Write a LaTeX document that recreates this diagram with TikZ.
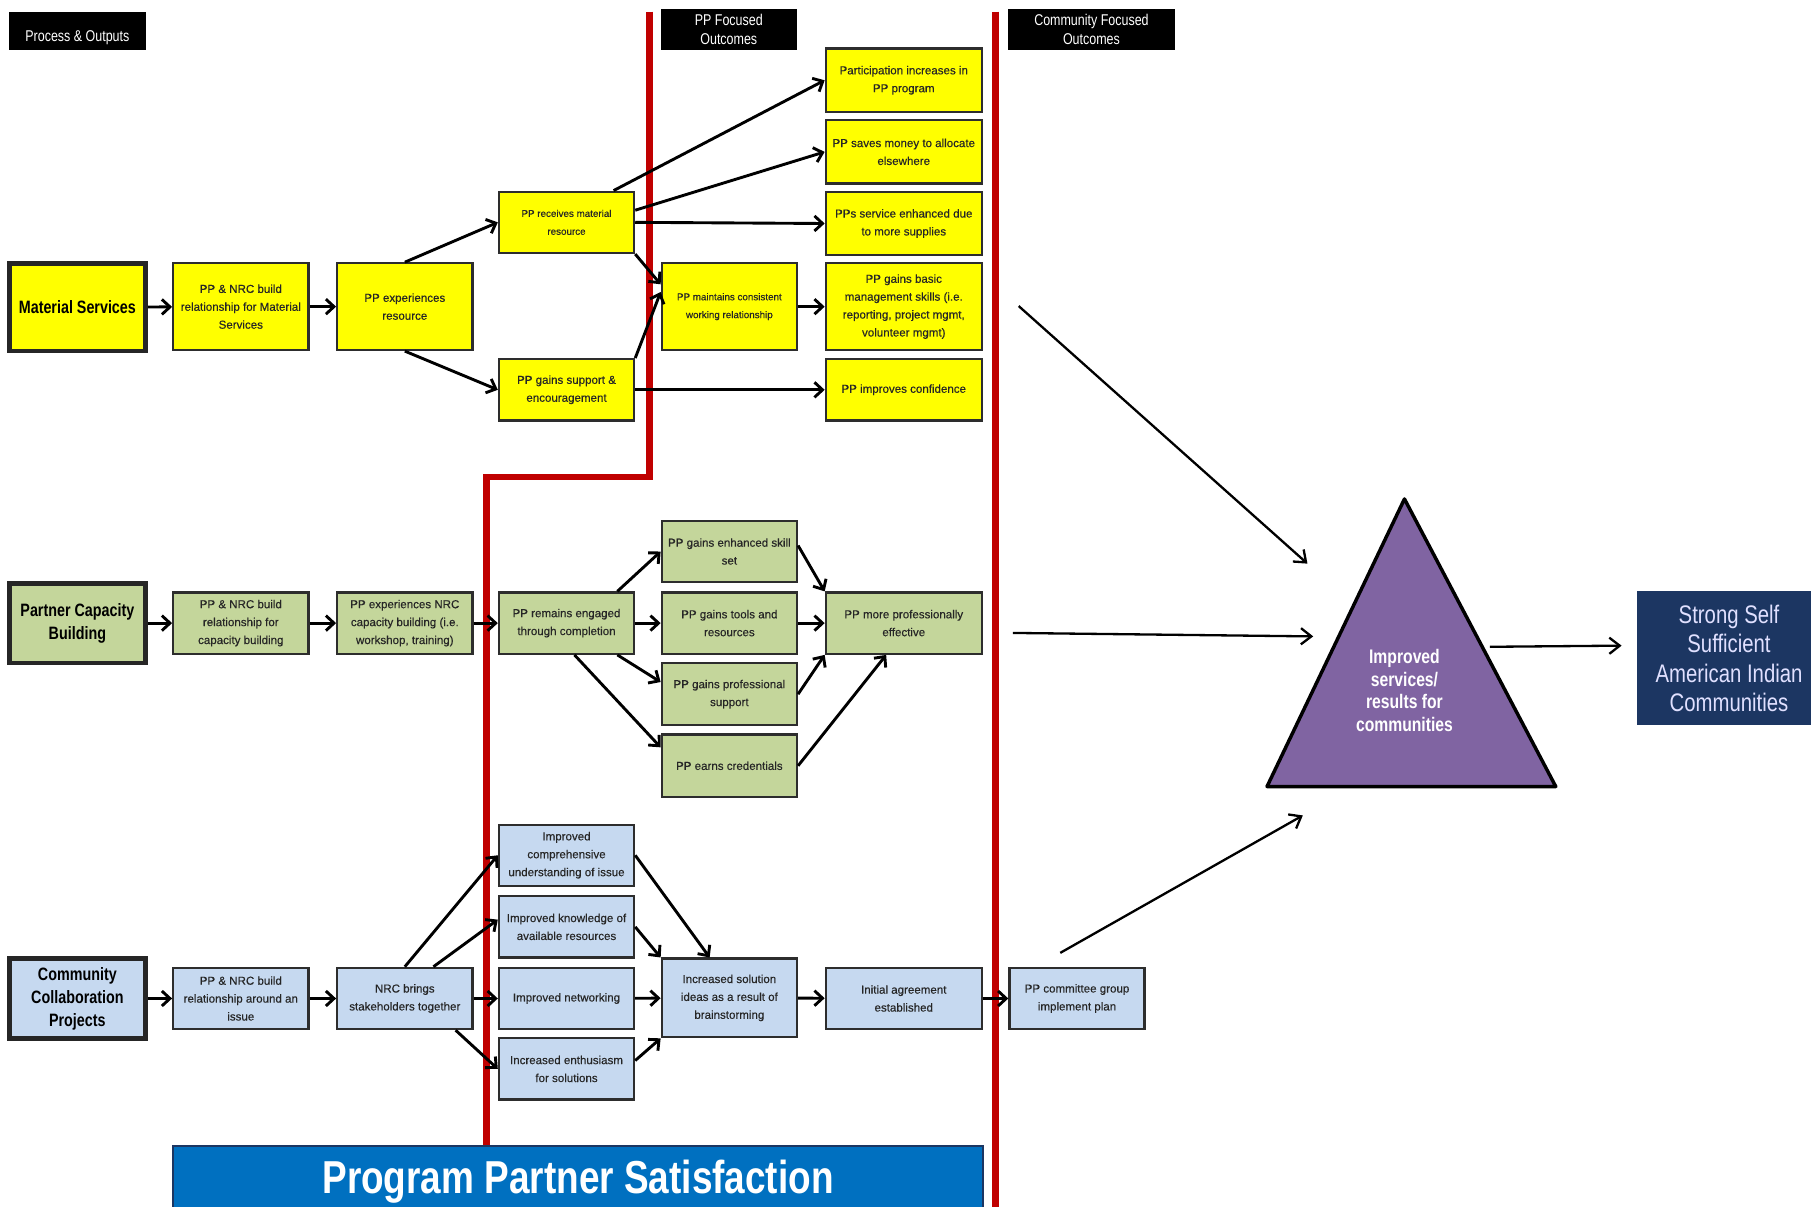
\documentclass[tikz,border=0pt]{standalone}
\usepackage{fontspec}
\setmainfont{Liberation Sans}
\newfontfamily\nar[FakeStretch=0.8]{Liberation Sans}
\newfontfamily\boxf[FakeBold=0.35]{Liberation Sans}
\usetikzlibrary{arrows.meta,calc}
\definecolor{ylw}{RGB}{255,255,0}
\definecolor{grn}{RGB}{196,214,155}
\definecolor{lblu}{RGB}{198,217,240}
\definecolor{redl}{RGB}{192,0,0}
\definecolor{purp}{RGB}{128,100,162}
\definecolor{navyb}{RGB}{28,54,98}
\definecolor{bbar}{RGB}{0,112,192}
\definecolor{bord}{RGB}{45,45,45}
\tikzset{
 base/.style={draw=bord, line width=2pt, inner sep=1pt, align=center, font=\boxf\fontsize{10}{15.5}\selectfont, text=black!85},
 ybox/.style={base, fill=ylw},
 gbox/.style={base, fill=grn},
 bbox/.style={base, fill=lblu},
 sz/.style 2 args={minimum width=#1pt, minimum height=#2pt},
 catbox/.style={draw=black!85, line width=4pt, align=center, font=\nar\bfseries\fontsize{15.5}{20}\selectfont, minimum width=118pt},
 hdr/.style={fill=black, text=white, align=center, font=\nar\fontsize{13.5}{17}\selectfont, inner sep=0pt},
 flow/.style={draw=black, line width=2.5pt, -{Straight Barb[length=7pt,width=13pt,line width=2.5pt]}},
 bigarrow/.style={draw=black, line width=2pt, -{Straight Barb[length=9pt,width=14pt,line width=2pt]}},
 redline/.style={draw=redl, line width=6pt},
}
\begin{document}
\begin{tikzpicture}[x=1pt,y=-1pt]
\useasboundingbox (0,0) rectangle (1568,1045);
% red dividers
\draw[redline] (562,10) -- (562,413) -- (421,413) -- (421,992);
\draw[redline] (862,10) -- (862,1060);
% headers
\node[hdr, sz={118}{33}, text height=20pt, text depth=1pt] (hproc) at (67,26.5) {Process \& Outputs};
\node[hdr, sz={118}{35}] (hpp) at (631,25.5) {PP Focused\\Outcomes};
\node[hdr, sz={144}{35}] (hcom) at (945,25.5) {Community Focused\\Outcomes};
% ---------------- row 1
\node[catbox, fill=ylw, minimum height=76pt] (ms) at (67,266) {Material Services};
\node[ybox, sz={117}{75}] (r1) at (208.5,265.5) {PP \& NRC build\\relationship for Material\\Services};
\node[ybox, sz={117}{75}] (e1) at (350.5,265.5) {PP experiences\\resource};
\node[ybox, sz={117}{53}, font=\boxf\fontsize{8.5}{15.5}\selectfont] (rm) at (490.5,192.5) {PP receives material\\resource};
\node[ybox, sz={117}{53}] (gs) at (490.5,337.5) {PP gains support \&\\encouragement};
\node[ybox, sz={117}{75}, font=\boxf\fontsize{8.5}{15.5}\selectfont] (mw) at (631.5,265.5) {PP maintains consistent\\working relationship};
\node[ybox, sz={135}{55}] (p1) at (782.5,69.5) {Participation increases in\\PP program};
\node[ybox, sz={135}{55}] (p2) at (782.5,131.5) {PP saves money to allocate\\elsewhere};
\node[ybox, sz={135}{55}] (p3) at (782.5,193.5) {PPs service enhanced due\\to more supplies};
\node[ybox, sz={135}{75}] (p4) at (782.5,265.5) {PP gains basic\\management skills (i.e.\\reporting, project mgmt,\\volunteer mgmt)};
\node[ybox, sz={135}{53}] (p5) at (782.5,337.5) {PP improves confidence};
\draw[flow] (ms) -- (r1);
\draw[flow] (r1) -- (e1);
\draw[flow] (e1.north) -- (rm.west);
\draw[flow] (e1.south) -- (gs.west);
\draw[flow] (rm.34) -- (p1.west);
\draw[flow] (rm.10) -- (p2.west);
\draw[flow] (rm.east) -- (p3.west);
\draw[flow] (rm.south east) -- (mw.162);
\draw[flow] (gs.north east) -- (mw.168);
\draw[flow] (gs.east) -- (p5.west);
\draw[flow] (mw) -- (p4);
% ---------------- row 2
\node[catbox, fill=grn, minimum height=69pt] (pcb) at (67,539.5) {Partner Capacity\\Building};
\node[gbox, sz={117}{53}] (r2) at (208.5,539.5) {PP \& NRC build\\relationship for\\capacity building};
\node[gbox, sz={117}{53}] (e2) at (350.5,539.5) {PP experiences NRC\\capacity building (i.e.\\workshop, training)};
\node[gbox, sz={117}{53}] (en) at (490.5,539.5) {PP remains engaged\\through completion};
\node[gbox, sz={117}{53}] (s1) at (631.5,477.5) {PP gains enhanced skill\\set};
\node[gbox, sz={117}{53}] (s2) at (631.5,539.5) {PP gains tools and\\resources};
\node[gbox, sz={117}{54}] (s3) at (631.5,601) {PP gains professional\\support};
\node[gbox, sz={117}{54}] (s4) at (631.5,663) {PP earns credentials};
\node[gbox, sz={135}{53}] (ef) at (782.5,539.5) {PP more professionally\\effective};
\draw[flow] (pcb) -- (r2);
\draw[flow] (r2) -- (e2);
\draw[flow] (e2) -- (en);
\draw[flow] (en.32) -- (s1.west);
\draw[flow] (en) -- (s2);
\draw[flow] (en.-32) -- (s3.170);
\draw[flow] (en.-76) -- (s4.165);
\draw[flow] (s1.5) -- (ef.north west);
\draw[flow] (s2) -- (ef);
\draw[flow] (s3.east) -- (ef.south west);
\draw[flow] (s4.east) -- (ef.-119);
% ---------------- row 3
\node[catbox, fill=lblu, minimum height=69pt] (ccp) at (67,864.5) {Community\\Collaboration\\Projects};
\node[bbox, sz={117}{53}] (r3) at (208.5,864.5) {PP \& NRC build\\relationship around an\\issue};
\node[bbox, sz={117}{53}] (nb) at (350.5,864.5) {NRC brings\\stakeholders together};
\node[bbox, sz={117}{53}] (i1) at (490.5,740.5) {Improved\\comprehensive\\understanding of issue};
\node[bbox, sz={117}{53}] (i2) at (490.5,802.5) {Improved knowledge of\\available resources};
\node[bbox, sz={117}{53}] (i3) at (490.5,864.5) {Improved networking};
\node[bbox, sz={117}{53}] (i4) at (490.5,925.5) {Increased enthusiasm\\for solutions};
\node[bbox, sz={117}{68}] (is) at (631.5,864) {Increased solution\\ideas as a result of\\brainstorming};
\node[bbox, sz={135}{53}] (ia) at (782.5,864.5) {Initial agreement\\established};
\node[bbox, sz={117}{53}] (pc) at (932.5,864.5) {PP committee group\\implement plan};
\draw[flow] (ccp) -- (r3);
\draw[flow] (r3) -- (nb);
\draw[flow] (nb.north) -- (i1.west);
\draw[flow] (nb.48) -- (i2.174);
\draw[flow] (nb) -- (i3);
\draw[flow] (nb.-32) -- (i4.west);
\draw[flow] (i1.east) -- (is.116);
\draw[flow] (i2.east) -- (is.north west);
\draw[flow] (i3) -- (is);
\draw[flow] (i4.7) -- (is.south west);
\draw[flow] (is) -- (ia);
\draw[flow] (ia) -- (pc);
% ---------------- right side
\draw[line width=3pt, fill=purp, line join=round] (1216,432) -- (1347,681) -- (1097,681) -- cycle;
\node[font=\nar\bfseries\fontsize{17}{19.5}\selectfont, text=white, align=center] (tri) at (1216,598) {Improved\\services/\\results for\\communities};
\node[fill=navyb, sz={160}{116}, text=white!88!blue, font=\nar\fontsize{22}{25.5}\selectfont, align=center] (strong) at (1497,570) {Strong Self\\Sufficient\\American Indian\\Communities};
\coordinate (a1s) at (882,265);  \coordinate (a1e) at (1132,488);
\coordinate (a2s) at (877,548);  \coordinate (a2e) at (1137,551);
\coordinate (a3s) at (918,825);  \coordinate (a3e) at (1128,706);
\coordinate (a4s) at (1290,560); \coordinate (a4e) at (1404,559);
\draw[bigarrow] (a1s) -- (a1e);
\draw[bigarrow] (a2s) -- (a2e);
\draw[bigarrow] (a3s) -- (a3e);
\draw[bigarrow] (a4s) -- (a4e);
% bottom bar
\node[draw=navyb, line width=2pt, fill=bbar, sz={701}{62}, text=white, font=\nar\bfseries\fontsize{40}{44}\selectfont] (pps) at (500.5,1023) {Program Partner Satisfaction};
\end{tikzpicture}
\end{document}
